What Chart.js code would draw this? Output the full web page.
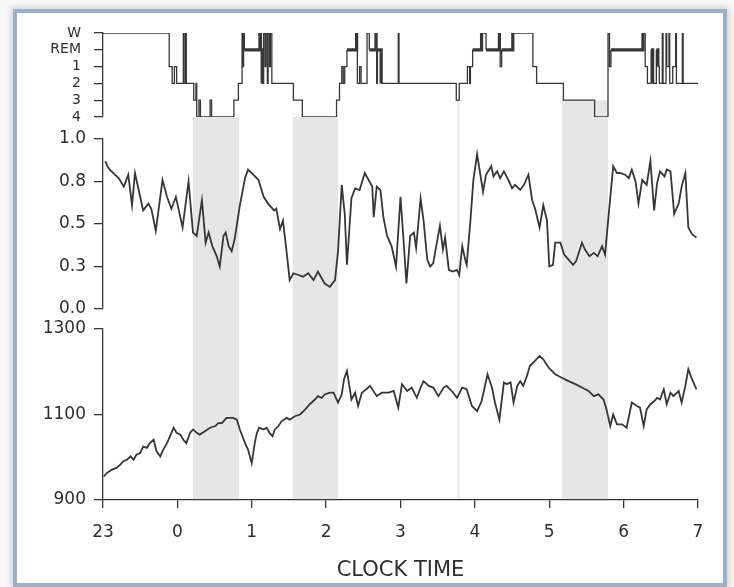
<!DOCTYPE html>
<html>
<head>
<meta charset="utf-8">
<script src="https://cdn.jsdelivr.net/npm/chart.js@4.4.1/dist/chart.umd.min.js"></script>
<style>
body { margin: 0; background: #f8f8f8; width: 734px; height: 587px; overflow: hidden; }
#frame {
    position: absolute; left: 13px; top: 9px; width: 706px; height: 570px;
    border: 4px solid #9db0c5; background: #fff;
    box-shadow: 0 0 6px 2px rgba(0,0,0,0.15);
}
#chart { position: absolute; left: 0; top: 0; }
</style>
</head>
<body>
<div id="frame"></div>
<canvas id="chart" width="734" height="587"></canvas>
<script>

// TICK LABELS
const xTickLabels = ['23','0','1','2','3','4','5','6','7'];
const stageLabels = ['W','REM','1','2','3','4'];
const midTickLabels = ['0.0','0.3','0.5','0.8','1.0'];
const botTickLabels = ['900','1100','1300'];

// HYPNOGRAM (hours after 23:00, stage index into stageLabels)
const hypTimes = [
    0.00,0.89,0.93,0.96,0.99,1.08,1.09,1.11,1.12,1.22,1.25,1.26,1.29,1.31,1.44,1.46,
    1.76,1.82,1.87,1.88,1.89,1.90,2.11,2.13,2.14,2.16,2.18,2.19,2.21,2.22,2.24,2.25,
    2.27,2.56,2.68,3.14,3.18,3.21,3.23,3.25,3.28,3.41,3.42,3.45,3.47,3.55,3.58,3.67,
    3.68,3.69,3.74,3.97,3.98,4.75,4.79,4.90,4.93,4.94,4.97,5.09,5.15,5.33,5.34,5.36,
    5.51,5.78,5.83,6.19,6.61,6.79,6.81,6.83,7.26,7.29,7.32,7.37,7.39,7.44,7.46,7.48,
    7.52,7.53,7.57,7.58,7.61,7.62,7.66,7.70,7.71,7.79,7.80,8.00
];
const hypStages = [
    0,2,3,2,3,0,3,0,3,4,3,5,4,5,4,5,
    4,3,0,2,0,1,0,1,3,0,2,0,3,0,2,0,
    3,4,5,4,3,2,3,2,1,0,3,2,3,0,1,0,
    3,1,3,0,3,4,3,2,3,2,1,0,1,0,2,1,
    0,2,3,4,5,0,2,1,0,2,3,1,3,1,2,3,
    0,3,0,2,0,3,2,0,3,0,3,3
];

// MIDDLE TRACE (0 - 1)
const midTimes = [
    0.03,0.06,0.09,0.16,0.21,0.28,0.34,0.39,0.43,0.50,0.54,0.61,0.65,0.71,0.80,0.86,
    0.92,0.98,1.07,1.15,1.21,1.26,1.33,1.38,1.42,1.47,1.53,1.57,1.62,1.65,1.69,1.73,
    1.77,1.84,1.91,1.95,2.02,2.09,2.16,2.22,2.30,2.33,2.38,2.42,2.47,2.51,2.56,2.63,
    2.69,2.76,2.83,2.89,2.98,3.05,3.12,3.16,3.21,3.25,3.28,3.34,3.39,3.45,3.52,3.62,
    3.64,3.68,3.73,3.77,3.82,3.88,3.94,4.00,4.04,4.08,4.13,4.18,4.21,4.27,4.31,4.36,
    4.40,4.44,4.53,4.57,4.60,4.65,4.70,4.76,4.79,4.83,4.87,4.89,4.94,4.98,5.03,5.07,
    5.11,5.15,5.22,5.25,5.30,5.34,5.39,5.45,5.50,5.54,5.61,5.66,5.72,5.77,5.81,5.87,
    5.92,5.97,6.00,6.05,6.08,6.15,6.20,6.26,6.32,6.36,6.44,6.48,6.54,6.60,6.65,6.71,
    6.75,6.80,6.86,6.91,6.95,7.02,7.07,7.11,7.16,7.20,7.25,7.31,7.36,7.41,7.45,7.49,
    7.55,7.58,7.63,7.68,7.74,7.78,7.83,7.87,7.92,7.98
];
const midValues = [
    0.87,0.84,0.82,0.79,0.77,0.72,0.79,0.61,0.80,0.66,0.58,0.62,0.59,0.46,0.76,0.66,
    0.59,0.66,0.48,0.75,0.45,0.43,0.64,0.39,0.45,0.37,0.31,0.25,0.43,0.45,0.37,0.34,
    0.41,0.61,0.77,0.82,0.79,0.76,0.66,0.62,0.58,0.59,0.47,0.52,0.33,0.17,0.21,0.20,
    0.19,0.21,0.17,0.22,0.15,0.13,0.17,0.34,0.73,0.56,0.26,0.65,0.71,0.70,0.80,0.72,
    0.54,0.72,0.70,0.54,0.43,0.37,0.25,0.66,0.41,0.15,0.43,0.45,0.36,0.65,0.52,0.29,
    0.25,0.27,0.49,0.35,0.42,0.23,0.22,0.23,0.20,0.37,0.29,0.26,0.52,0.76,0.91,0.80,
    0.69,0.79,0.84,0.78,0.81,0.77,0.81,0.76,0.71,0.73,0.70,0.73,0.79,0.64,0.59,0.48,
    0.61,0.52,0.25,0.26,0.39,0.39,0.32,0.29,0.26,0.28,0.39,0.35,0.31,0.33,0.31,0.37,
    0.32,0.56,0.84,0.80,0.80,0.79,0.77,0.82,0.75,0.62,0.76,0.73,0.87,0.58,0.74,0.81,
    0.78,0.82,0.81,0.56,0.62,0.72,0.80,0.48,0.44,0.42
];

// BOTTOM TRACE (900 - 1300)
const botTimes = [
    0.01,0.05,0.12,0.18,0.23,0.27,0.32,0.37,0.41,0.45,0.50,0.54,0.59,0.63,0.68,0.72,
    0.77,0.81,0.86,0.90,0.95,0.99,1.04,1.08,1.12,1.17,1.21,1.26,1.30,1.37,1.44,1.51,
    1.55,1.60,1.66,1.75,1.80,1.84,1.91,1.95,2.00,2.04,2.07,2.10,2.16,2.20,2.24,2.28,
    2.31,2.36,2.40,2.47,2.51,2.58,2.65,2.72,2.78,2.85,2.89,2.94,2.98,3.05,3.10,3.16,
    3.21,3.24,3.28,3.32,3.34,3.39,3.43,3.48,3.54,3.59,3.68,3.75,3.84,3.91,3.97,4.02,
    4.09,4.15,4.22,4.27,4.31,4.38,4.44,4.51,4.58,4.62,4.69,4.76,4.83,4.89,4.96,5.03,
    5.09,5.17,5.23,5.27,5.33,5.39,5.43,5.48,5.52,5.57,5.61,5.65,5.70,5.74,5.81,5.87,
    5.92,5.99,6.08,6.17,6.26,6.35,6.44,6.53,6.60,6.66,6.73,6.77,6.82,6.86,6.91,6.98,
    7.04,7.11,7.18,7.22,7.27,7.31,7.36,7.41,7.45,7.49,7.54,7.58,7.63,7.67,7.74,7.78,
    7.83,7.87,7.92,7.98
];
const botValues = [
    955,963,971,975,982,990,994,1002,994,1006,1010,1025,1022,1033,1041,1014,
    1002,1018,1033,1049,1069,1057,1053,1041,1033,1057,1065,1057,1053,1061,1069,1073,
    1080,1080,1092,1092,1088,1065,1033,1018,986,1033,1057,1069,1065,1069,1057,1049,
    1065,1073,1084,1092,1088,1096,1100,1112,1124,1135,1143,1139,1147,1151,1151,1128,
    1147,1182,1202,1159,1135,1151,1120,1151,1159,1167,1143,1151,1151,1155,1116,1171,
    1155,1163,1139,1163,1178,1167,1163,1143,1163,1167,1155,1139,1163,1159,1120,1108,
    1131,1194,1163,1128,1088,1175,1171,1175,1128,1167,1178,1167,1190,1214,1226,1237,
    1229,1210,1194,1186,1178,1171,1163,1155,1143,1147,1135,1112,1073,1100,1077,1077,
    1069,1128,1120,1116,1073,1112,1124,1131,1139,1135,1159,1124,1151,1143,1155,1128,
    1167,1206,1182,1159
];

// SHADED PERIODS
const bandStart = [1.21, 2.55, 6.17];
const bandEnd = [1.83, 3.16, 6.79];
const bandTopStage = [5, 5, 4];
const markerTime = 4.78;


const ink = '#363636';
const textInk = '#2e2e2e';
const font = 'DejaVu Sans';

function toPoints(xs, ys){
    return xs.map((x, i) => ({ x: x, y: ys[i] }));
}


// GREY BANDS BEHIND THE TRACES
const bandPlugin = {

    id: 'bands',

    beforeDraw(chart){

        const { ctx, chartArea, scales } = chart;
        const xs = scales.x;
        const ys = scales.yHyp;

        ctx.save();
        ctx.fillStyle = '#e6e6e6';

        bandStart.forEach((s, i) => {
            const x0 = xs.getPixelForValue(s);
            const x1 = xs.getPixelForValue(bandEnd[i]);
            const top = ys.getPixelForValue(bandTopStage[i]);
            ctx.fillRect(x0, top, x1 - x0, chartArea.bottom - top);
        });

        const mx = xs.getPixelForValue(markerTime);
        const mTop = ys.getPixelForValue(4);
        ctx.fillStyle = '#e9e9e9';
        ctx.fillRect(mx - 1, mTop, 2, chartArea.bottom - mTop);

        ctx.restore();

    }

};


function yAxis(weight, stackWeight, extra){
    return Object.assign({
        type: 'linear',
        position: 'left',
        stack: 'panels',
        stackWeight: stackWeight,
        weight: weight,
        offset: false,
        grid: { drawOnChartArea: false, color: ink, lineWidth: 1.3, tickLength: 9 },
        border: { display: true, color: ink, width: 1.3 },
        afterFit(scale){ scale.width = 103; }
    }, extra);
}


new Chart(

document.getElementById('chart'),

{

    type: 'line',

    data: {

        datasets: [

            {
                data: toPoints(hypTimes, hypStages),
                yAxisID: 'yHyp',
                stepped: true,
                borderColor: ink,
                borderWidth: 1.3,
                pointRadius: 0,
                segment: {
                    borderWidth: c => c.p0.parsed.y === 1 ? 3.2 : 1.3
                }
            },

            {
                data: toPoints(midTimes, midValues),
                yAxisID: 'yMid',
                borderColor: ink,
                borderWidth: 1.8,
                pointRadius: 0,
                tension: 0
            },

            {
                data: toPoints(botTimes, botValues),
                yAxisID: 'yBot',
                borderColor: ink,
                borderWidth: 1.8,
                pointRadius: 0,
                tension: 0
            }

        ]

    },

    options: {

        responsive: false,
        animation: false,
        devicePixelRatio: 1,

        layout: { padding: { left: 0, right: 36, top: 33, bottom: 0 } },

        plugins: {
            legend: { display: false },
            tooltip: { enabled: false }
        },

        scales: {

            x: {
                type: 'linear',
                position: 'bottom',
                min: 0,
                max: 8,
                grid: { drawOnChartArea: false, color: ink, lineWidth: 1.3, tickLength: 8 },
                border: { display: true, color: ink, width: 1.3 },
                ticks: {
                    stepSize: 1,
                    padding: 14,
                    autoSkip: false,
                    color: textInk,
                    font: { family: font, size: 17 },
                    callback: v => xTickLabels[Math.round(v)]
                },
                title: {
                    display: true,
                    text: 'CLOCK TIME',
                    color: textInk,
                    font: { family: font, size: 21 },
                    padding: { top: 0, bottom: 4 }
                },
                afterFit(scale){ scale.height = 87; }
            },

            yHyp: yAxis(5, 84, {
                min: 0,
                max: 5,
                reverse: true,
                ticks: {
                    stepSize: 1,
                    padding: 13,
                    autoSkip: false,
                    color: textInk,
                    font: { family: font, size: 14 },
                    callback: v => stageLabels[Math.round(v)]
                }
            }),

            gap1: yAxis(4, 22, { display: false }),

            yMid: yAxis(3, 170, {
                min: 0,
                max: 1,
                ticks: {
                    stepSize: 0.25,
                    padding: 8,
                    autoSkip: false,
                    color: textInk,
                    font: { family: font, size: 17 },
                    callback: (v, i) => midTickLabels[i]
                }
            }),

            gap2: yAxis(2, 20, { display: false }),

            yBot: yAxis(1, 171, {
                min: 900,
                max: 1300,
                ticks: {
                    stepSize: 200,
                    padding: 8,
                    autoSkip: false,
                    color: textInk,
                    font: { family: font, size: 17 },
                    callback: (v, i) => botTickLabels[i]
                }
            })

        }

    },

    plugins: [bandPlugin]

});

</script>
</body>
</html>
